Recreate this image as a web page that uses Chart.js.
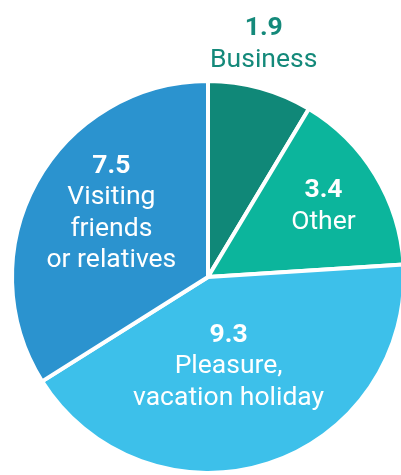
<!DOCTYPE html>
<html>
<head>
<meta charset="utf-8">
<script src="https://cdn.jsdelivr.net/npm/chart.js@4/dist/chart.umd.min.js"></script>
<style>
    html, body { margin: 0; padding: 0; background: #fff; overflow: hidden; }
    #wrap { width: 416px; height: 475px; }
</style>
</head>
<body>
<div id="wrap"><canvas id="tripChart" width="416" height="475"></canvas></div>
<script>
// Trip purpose pie

const categories = ['Business', 'Other', 'Pleasure, vacation holiday', 'Visiting friends or relatives'];
const values = [1.9, 3.4, 9.3, 7.5];
const labelLines = [
    ['Business'],
    ['Other'],
    ['Pleasure,', 'vacation holiday'],
    ['Visiting', 'friends', 'or relatives']
];
const valueLabels = ['1.9', '3.4', '9.3', '7.5'];

const colors = ['#108878', '#0cb59c', '#3dc0ea', '#2b93cf'];
const textColors = ['#14897a', '#ffffff', '#ffffff', '#ffffff'];
// label placement: fraction of radius, and angle nudge (deg)
const labelRadius = [1.22, 0.69, 0.47, 0.59];
const labelNudge = [-2, 0, 5, 4.4];

const lineHeight = 31.5;

const sliceLabels = {
    id: 'sliceLabels',
    afterDatasetsDraw(chart) {
        const ctx = chart.ctx;
        const meta = chart.getDatasetMeta(0);
        ctx.save();
        ctx.textAlign = 'center';
        ctx.textBaseline = 'middle';
        meta.data.forEach((arc, i) => {
            const p = arc.getProps(['x', 'y', 'startAngle', 'endAngle', 'outerRadius'], true);
            const mid = (p.startAngle + p.endAngle) / 2 + labelNudge[i] * Math.PI / 180;
            const r = p.outerRadius * labelRadius[i];
            const cx = p.x + Math.cos(mid) * r;
            const cy = p.y + Math.sin(mid) * r;
            const lines = [valueLabels[i]].concat(labelLines[i]);
            const top = cy - (lines.length - 1) * lineHeight / 2;
            ctx.fillStyle = textColors[i];
            lines.forEach((txt, j) => {
                ctx.font = (j === 0 ? 'bold ' : '') + '26.5px Roboto';
                ctx.fillText(txt, cx, top + j * lineHeight);
            });
        });
        ctx.restore();
    }
};

new Chart(document.getElementById('tripChart'), {
    type: 'pie',
    data: {
        labels: categories,
        datasets: [{
            data: values,
            backgroundColor: colors,
            borderColor: '#ffffff',
            borderWidth: 4
        }]
    },
    options: {
        responsive: false,
        animation: false,
        devicePixelRatio: 1,
        layout: { padding: { left: 9.5, right: 9.5, top: 79, bottom: 0 } },
        plugins: {
            legend: { display: false },
            tooltip: { enabled: false }
        }
    },
    plugins: [sliceLabels]
});
</script>
</body>
</html>
